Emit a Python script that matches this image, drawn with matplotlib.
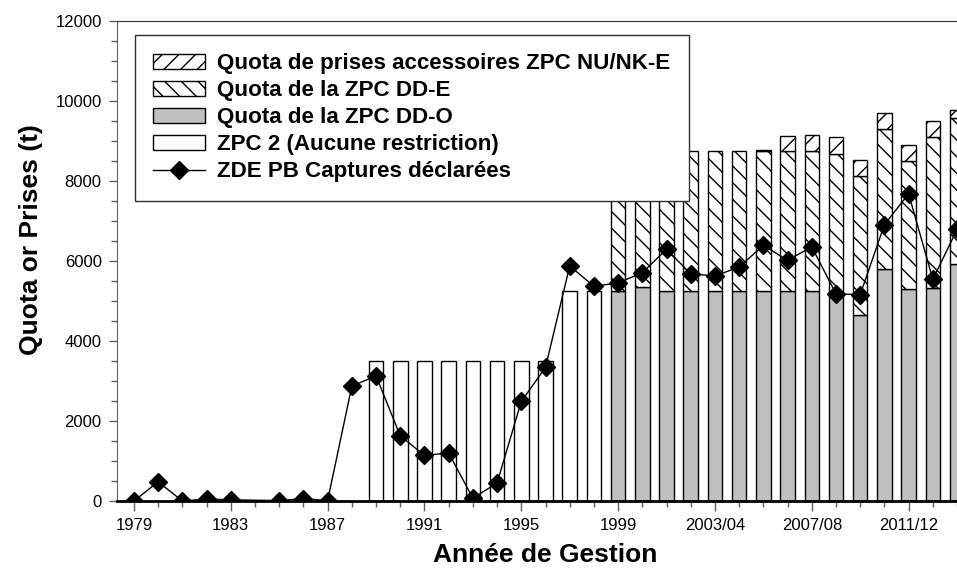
import numpy as np
import matplotlib
matplotlib.use("Agg")
import matplotlib.pyplot as plt
from matplotlib.ticker import MultipleLocator, FixedLocator

plt.rcParams['font.family'] = ['Liberation Sans', 'DejaVu Sans']
plt.rcParams['hatch.linewidth'] = 1.0

# --- Data ---
years = ["1979", "1980", "1981", "1982", "1983", "1984", "1985", "1986", "1987",
         "1988", "1989", "1990", "1991", "1992", "1993", "1994", "1995", "1996",
         "1997", "1998", "1999", "2000", "2001", "2002", "2003/04", "2004/05",
         "2005/06", "2006/07", "2007/08", "2008/09", "2009/10", "2010/11",
         "2011/12", "2012/13", "2013/14"]

zpc2_quota = [0, 0, 0, 0, 0, 0, 0, 0, 0, 0,
              3500, 3500, 3500, 3500, 3500, 3500, 3500, 3500, 5250, 5250,
              0, 0, 0, 0, 0, 0, 0, 0, 0, 0, 0, 0, 0, 0, 0]
ddo_quota = [0, 0, 0, 0, 0, 0, 0, 0, 0, 0, 0, 0, 0, 0, 0, 0, 0, 0, 0, 0,
             5250, 5350, 5250, 5250, 5250, 5250, 5250, 5250, 5250, 5200,
             4650, 5800, 5300, 5330, 5920]
dde_quota = [0, 0, 0, 0, 0, 0, 0, 0, 0, 0, 0, 0, 0, 0, 0, 0, 0, 0, 0, 0,
             3500, 3400, 3500, 3500, 3500, 3500, 3500, 3500, 3500, 3480,
             3480, 3500, 3200, 3770, 3650]
acc_quota = [0, 0, 0, 0, 0, 0, 0, 0, 0, 0, 0, 0, 0, 0, 0, 0, 0, 0, 0, 0,
             0, 0, 0, 0, 0, 0, 30, 380, 400, 410, 400, 390, 400, 400, 200]
# 1984: no reported catch
catches = [0, 480, 0, 50, 30, np.nan, 10, 60, 10, 2870, 3130, 1630, 1140, 1200,
           70, 450, 2490, 3340, 5875, 5370, 5450, 5710, 6290, 5680, 5625, 5850,
           6390, 6020, 6350, 5180, 5160, 6910, 7680, 5540, 6790]

labels = ["Quota de prises accessoires ZPC NU/NK-E", "Quota de la ZPC DD-E",
          "Quota de la ZPC DD-O", "ZPC 2 (Aucune restriction)",
          "ZDE PB Captures déclarées"]

# --- Plot ---
fig = plt.figure(figsize=(9.57, 5.84), dpi=100)
ax = fig.add_axes([117 / 957, 83 / 584, 857 / 957, 480 / 584])

x = np.arange(len(years))
zpc2 = np.array(zpc2_quota, dtype=float)
ddo = np.array(ddo_quota, dtype=float)
dde = np.array(dde_quota, dtype=float)
acc = np.array(acc_quota, dtype=float)
catch = np.array(catches, dtype=float)

w = 0.6
bar_kw = dict(width=w, edgecolor="black", linewidth=1.0)

m = zpc2 > 0
h_zpc2 = ax.bar(x[m], zpc2[m], color="white", **bar_kw)
m = ddo > 0
h_ddo = ax.bar(x[m], ddo[m], color="#c0c0c0", **bar_kw)
m = dde > 0
h_dde = ax.bar(x[m], dde[m], bottom=ddo[m], color="white", hatch="\\\\", **bar_kw)
m = acc > 0
h_acc = ax.bar(x[m], acc[m], bottom=(ddo + dde)[m], color="white", hatch="//", **bar_kw)

ok = ~np.isnan(catch)
h_line, = ax.plot(x[ok], catch[ok], color="black", linewidth=1.0,
                  marker="D", markersize=9, markerfacecolor="black",
                  markeredgecolor="black", zorder=4)

ax.set_xlim(-0.7, 34.7)
ax.set_ylim(0, 12000)

# y axis
ax.yaxis.set_major_locator(MultipleLocator(2000))
ax.yaxis.set_minor_locator(MultipleLocator(500))
ax.tick_params(axis="y", which="major", direction="out", length=6, width=1,
               color="#606060", labelsize=12, pad=5)
ax.tick_params(axis="y", which="minor", direction="out", length=4, width=1,
               color="#606060")

# x axis
major_idx = list(range(0, len(years), 4))
ax.xaxis.set_major_locator(FixedLocator(major_idx))
ax.xaxis.set_minor_locator(FixedLocator([i for i in x if i not in major_idx]))
ax.set_xticklabels([years[i] for i in major_idx])
ax.tick_params(axis="x", which="major", direction="out", length=7, width=1,
               color="#606060", labelsize=12, pad=5)
ax.tick_params(axis="x", which="minor", direction="out", length=4, width=1,
               color="#606060")

ax.spines["left"].set_color("#606060")
ax.spines["bottom"].set_linewidth(2)
ax.spines["bottom"].set_color("black")
ax.spines["top"].set_color("#303030")
ax.spines["right"].set_visible(False)

ax.set_ylabel("Quota or Prises (t)", fontsize=19, fontweight="bold")
ax.yaxis.set_label_coords(-0.1, 0.544)
ax.set_xlabel("Année de Gestion", fontsize=19, fontweight="bold")
ax.xaxis.set_label_coords(0.5, -0.113)
ax.xaxis.label.set_va("center")
ax.yaxis.label.set_va("center")

leg = ax.legend([h_acc, h_dde, h_ddo, h_zpc2, h_line], labels,
                loc="upper left", bbox_to_anchor=(0.021, 0.971), borderaxespad=0,
                fancybox=False, framealpha=1, edgecolor="#303030",
                prop={"weight": "bold", "size": 16.1}, handlelength=2.3,
                handleheight=0.7, handletextpad=0.55, labelspacing=0.27,
                borderpad=0.82)
leg.get_frame().set_linewidth(1.0)

fig.savefig("out.png", dpi=100)
